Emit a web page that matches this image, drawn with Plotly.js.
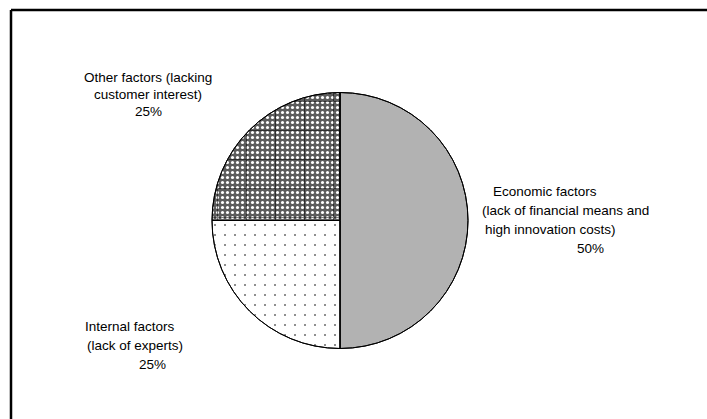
<!DOCTYPE html>
<html>
<head>
<meta charset="utf-8">
<script src="https://cdn.plot.ly/plotly-3.0.1.min.js"></script>
<style>html,body{margin:0;padding:0;background:#fff;}#chart{width:707px;height:419px;}</style>
</head>
<body>
<div id="chart"></div>
<script>
// Data
const categories = ["Economic factors", "Internal factors", "Other factors"];
const shares = [50, 25, 25];
const labelLines = {
  "Economic factors": ["Economic factors", "(lack of financial means and", "high innovation costs)"],
  "Internal factors": ["Internal factors", "(lack of experts)"],
  "Other factors": ["Other factors (lacking", "customer interest)"]
};

const W = 707, H = 419;
const cx = 340, cy = 220.5, R = 128;
const domain = {
  x: [(cx - R) / W, (cx + R) / W],
  y: [(H - cy - R) / H, (H - cy + R) / H]
};
const font = {family: "Liberation Sans, Arial, sans-serif", size: 13.5, color: "#000"};

const base = {
  type: "pie",
  uid: "basepie",
  values: shares,
  labels: categories,
  sort: false,
  direction: "clockwise",
  rotation: 0,
  textinfo: "none",
  hoverinfo: "none",
  showlegend: false,
  domain: domain,
  marker: {
    colors: ["#b2b2b2", "#ffffff", "#5c5c5c"],
    line: {color: "#000", width: 1},
    pattern: {
      shape: ["", ".", "."],
      bgcolor: ["#b2b2b2", "#ffffff", "#5c5c5c"],
      fgcolor: ["#b2b2b2", "#000000", "#ffffff"],
      size: [8, 10, 5],
      solidity: [0.2, 0.02, 0.3],
      fillmode: "replace"
    }
  }
};

const grid = {
  type: "pie",
  uid: "gridpie",
  values: shares,
  labels: categories,
  sort: false,
  direction: "clockwise",
  rotation: 0,
  textinfo: "none",
  hoverinfo: "none",
  showlegend: false,
  domain: domain,
  marker: {
    colors: ["rgba(0,0,0,0)", "rgba(0,0,0,0)", "rgba(0,0,0,0)"],
    line: {color: "#000", width: 1},
    pattern: {
      shape: ["", "", "+"],
      bgcolor: ["rgba(0,0,0,0)", "rgba(0,0,0,0)", "rgba(0,0,0,0)"],
      fgcolor: ["rgba(0,0,0,0)", "rgba(0,0,0,0)", "#000000"],
      size: [9, 9, 29],
      solidity: [0.1, 0.1, 0.07],
      fillmode: "overlay"
    }
  }
};

// Label placement (pixel positions of each label block)
const placements = {
  "Economic factors": {xs: [491, 480, 483], pctX: 590, anchor: "left", y0: 192, gap: 18.7},
  "Internal factors": {xs: [83, 85], pctX: 152, anchor: "left", y0: 326, gap: 19.3},
  "Other factors": {xs: [148, 148], pctX: 148, anchor: "center", y0: 77, gap: 17.3}
};
const annotations = [];
categories.forEach((c, i) => {
  const p = placements[c];
  const lines = labelLines[c];
  lines.forEach((t, k) => {
    annotations.push({
      xref: "paper", yref: "paper",
      x: p.xs[k] / W, y: 1 - (p.y0 + k * p.gap) / H,
      xanchor: p.anchor, yanchor: "middle",
      text: t, showarrow: false, font: font
    });
  });
  annotations.push({
    xref: "paper", yref: "paper",
    x: p.pctX / W, y: 1 - (p.y0 + lines.length * p.gap) / H,
    xanchor: "center", yanchor: "middle",
    text: shares[i] + "%", showarrow: false, font: font
  });
});

const layout = {
  width: W, height: H,
  margin: {l: 0, r: 0, t: 0, b: 0},
  paper_bgcolor: "#fff",
  plot_bgcolor: "#fff",
  font: font,
  annotations: annotations,
  shapes: [
    {type: "line", xref: "paper", yref: "paper", x0: 11 / W, x1: 1, y0: 1 - 10 / H, y1: 1 - 10 / H, line: {color: "#000", width: 2.5}},
    {type: "line", xref: "paper", yref: "paper", x0: 11 / W, x1: 11 / W, y0: 1 - 10 / H, y1: 0, line: {color: "#000", width: 2.5}}
  ]
};

Plotly.newPlot("chart", [base, grid], layout, {staticPlot: true, displayModeBar: false});
</script>
</body>
</html>
